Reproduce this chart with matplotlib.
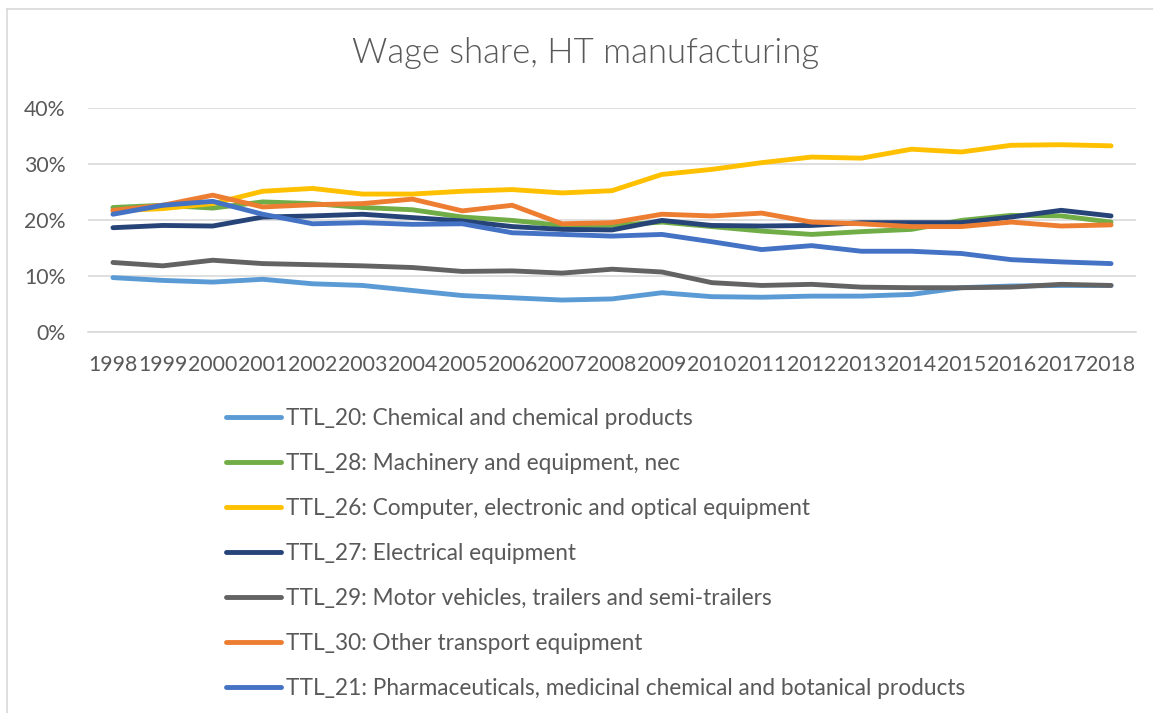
import matplotlib
matplotlib.use("Agg")
import matplotlib.pyplot as plt
from matplotlib.lines import Line2D
from matplotlib.ticker import FuncFormatter

years = [str(y) for y in range(1998, 2019)]

ttl_20 = [9.7, 9.2, 8.9, 9.4, 8.6, 8.3, 7.4, 6.5, 6.1, 5.7, 5.9, 7.0, 6.3, 6.2, 6.4, 6.4, 6.7, 7.9, 8.2, 8.3, 8.3]
ttl_28 = [22.2, 22.6, 22.1, 23.2, 22.9, 22.2, 21.8, 20.5, 19.9, 19.0, 19.0, 19.6, 18.8, 18.0, 17.4, 17.9, 18.3, 19.9, 20.8, 20.7, 19.6]
ttl_26 = [21.6, 22.0, 22.9, 25.1, 25.6, 24.6, 24.6, 25.1, 25.4, 24.8, 25.2, 28.1, 29.0, 30.2, 31.2, 31.0, 32.6, 32.1, 33.3, 33.4, 33.2]
ttl_27 = [18.6, 19.0, 18.9, 20.5, 20.7, 21.0, 20.4, 19.8, 18.8, 18.3, 18.2, 19.9, 19.0, 18.9, 19.0, 19.5, 19.5, 19.5, 20.5, 21.7, 20.7]
ttl_29 = [12.4, 11.8, 12.8, 12.2, 12.0, 11.8, 11.5, 10.8, 10.9, 10.5, 11.2, 10.7, 8.8, 8.3, 8.5, 8.0, 7.9, 7.9, 8.0, 8.5, 8.3]
ttl_30 = [21.7, 22.6, 24.4, 22.3, 22.7, 22.9, 23.7, 21.6, 22.6, 19.3, 19.5, 21.0, 20.7, 21.2, 19.6, 19.3, 18.8, 18.8, 19.6, 18.9, 19.1]
ttl_21 = [21.0, 22.6, 23.3, 21.0, 19.3, 19.5, 19.2, 19.3, 17.7, 17.4, 17.1, 17.4, 16.1, 14.7, 15.4, 14.4, 14.4, 14.0, 12.9, 12.5, 12.2]

labels = [
    "TTL_20: Chemical and chemical products",
    "TTL_28: Machinery and equipment, nec",
    "TTL_26: Computer, electronic and optical equipment",
    "TTL_27: Electrical equipment",
    "TTL_29: Motor vehicles, trailers and semi-trailers",
    "TTL_30: Other transport equipment",
    "TTL_21: Pharmaceuticals, medicinal chemical and botanical products",
]
series = [ttl_20, ttl_28, ttl_26, ttl_27, ttl_29, ttl_30, ttl_21]
colors = ["#5B9BD5", "#70AD47", "#FFC000", "#264478", "#636363", "#ED7D31", "#4472C4"]

plt.rcParams['font.family'] = ['Lato', 'DejaVu Sans']
TXT = "#595959"

W, H = 1153, 713
fig = plt.figure(figsize=(W / 100, H / 100), dpi=100)
ax_left, ax_right, ax_top, ax_bottom = 88, 1136, 107.7, 332
ax = fig.add_axes([ax_left / W, 1 - ax_bottom / H, (ax_right - ax_left) / W, (ax_bottom - ax_top) / H])

x = list(range(len(years)))
for vals, lab, c in zip(series, labels, colors):
    ax.plot(x, [v / 100 for v in vals], color=c, lw=3.5, label=lab,
            solid_capstyle='round', solid_joinstyle='round')

ax.set_xlim(-0.5, len(years) - 0.5)
ax.set_ylim(0, 0.4)
ax.set_yticks([0, 0.1, 0.2, 0.3, 0.4])
ax.yaxis.set_major_formatter(FuncFormatter(lambda v, p: f"{v*100:.0f}%"))
ax.set_xticks(x)
ax.set_xticklabels(years)
ax.grid(axis='y', color='#D9D9D9', lw=1.2)
ax.set_axisbelow(True)
for s in ['top', 'right', 'left']:
    ax.spines[s].set_visible(False)
ax.spines['bottom'].set_color('#D9D9D9')
ax.spines['bottom'].set_linewidth(1.2)
ax.tick_params(axis='both', length=0, labelsize=15.3, labelcolor=TXT)
ax.tick_params(axis='y', pad=16)
ax.tick_params(axis='x', pad=16.5)

fig.text(586 / W, 1 - 53 / H, "Wage share, HT manufacturing", ha='center', va='center',
         fontsize=25, color=TXT, fontweight=300)

handles = ax.get_lines()
leg = fig.legend(handles, labels, loc='upper left',
                 bbox_to_anchor=(226 / W, 1 - 408 / H), frameon=False,
                 fontsize=16.3, labelcolor=TXT, handlelength=2.45, handletextpad=0.18,
                 labelspacing=1.06, borderpad=0, borderaxespad=0)

# chart area border (top and left)
fig.add_artist(Line2D([7 / W, 1], [1 - 9 / H, 1 - 9 / H], transform=fig.transFigure, color='#D9D9D9', lw=1.2))
fig.add_artist(Line2D([7 / W, 7 / W], [1 - 9 / H, 0], transform=fig.transFigure, color='#D9D9D9', lw=1.2))

fig.savefig("out.png", dpi=100)
